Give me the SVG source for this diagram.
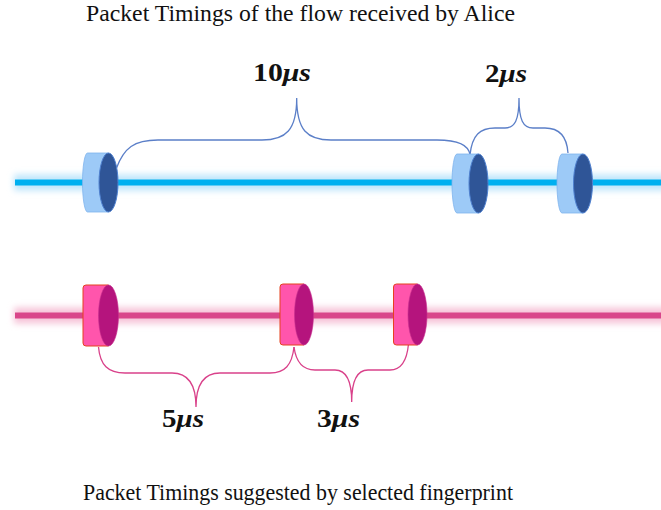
<svg xmlns="http://www.w3.org/2000/svg" width="661" height="510" viewBox="0 0 661 510">
<defs>
<filter id="glow" filterUnits="userSpaceOnUse" x="0" y="0" width="661" height="510"><feGaussianBlur stdDeviation="3"/></filter>
<style>
.title{font-family:"Liberation Serif","Times New Roman",serif;font-size:22.5px;fill:#111}
.lbl{font-family:"Liberation Serif","Times New Roman",serif;font-size:25px;font-weight:bold;fill:#111}
.it{font-style:italic}
.bside{fill:#9DCAF7;stroke:#7FB4EE;stroke-width:0.8}
.bface{fill:#2F5597;stroke:#4F81D0;stroke-width:1}
.pside{fill:#FF55AC;stroke:#E5421F;stroke-width:1}
.pface{fill:#B5147D;stroke:#C8308F;stroke-width:0.6}
.bbrace{fill:none;stroke:#5B7FC8;stroke-width:1.3}
.pbrace{fill:none;stroke:#D9418A;stroke-width:1.3}
</style>
</defs>
<rect width="661" height="510" fill="#fff"/>
<text class="title" x="86" y="21" textLength="429" lengthAdjust="spacingAndGlyphs">Packet Timings of the flow received by Alice</text>
<text class="title" x="83" y="500" textLength="430" lengthAdjust="spacingAndGlyphs">Packet Timings suggested by selected fingerprint</text>

<g id="blue-line">
<line x1="14" y1="182.5" x2="670" y2="182.5" stroke="#BFE6FB" stroke-width="16" filter="url(#glow)"/>
<line x1="15" y1="182.5" x2="661" y2="182.5" stroke="#00B0F0" stroke-width="6"/>
</g>
<g id="pink-line">
<line x1="14" y1="315.5" x2="670" y2="315.5" stroke="#F6C3D8" stroke-width="16" filter="url(#glow)"/>
<line x1="15" y1="315.5" x2="661" y2="315.5" stroke="#D9468A" stroke-width="6"/>
</g>

<g id="connectors">
<path class="bbrace" d="M116.5,168 C124,148 134,140 158,140 L262,140 C286,140 296.7,130 296.7,98 C296.7,130 307,140 331,140 L437,140 C460,140 469,146 470,155"/>
<path class="bbrace" d="M470,155 C472,135 480,128 495,128 L505,128 C515,128 519,120 519,98 C519,120 523,128 533,128 L545,128 C560,128 567,138 568,153"/>
<path class="pbrace" d="M98.5,347 C100,365 108,373 125,373 L172,373 C188,373 196,385 196,407 C196,385 204,373 220,373 L270,373 C285,373 292,365 294,347"/>
<path class="pbrace" d="M294,347 C296,362 302,370 315,370 L335,370 C346,370 351.7,380 351.7,402 C351.7,380 357,370 368,370 L390,370 C402,370 407,360 408.5,344"/>
</g>

<g id="blue-packet-1">
<path class="bside" d="M108.5,153 L87.5,153 A5,29.5 0 0 0 87.5,212 L108.5,212 Z"/>
<ellipse class="bface" cx="108.5" cy="182.5" rx="9.5" ry="29.5"/>
</g>
<g id="blue-packet-2">
<path class="bside" d="M478.5,154 L457,154 A5,29.5 0 0 0 457,213 L478.5,213 Z"/>
<ellipse class="bface" cx="478.5" cy="183.5" rx="9.5" ry="29.5"/>
</g>
<g id="blue-packet-3">
<path class="bside" d="M583,154 L562,154 A5,29.5 0 0 0 562,213 L583,213 Z"/>
<ellipse class="bface" cx="583" cy="183.5" rx="9.5" ry="29.5"/>
</g>

<g id="pink-packet-1">
<path class="pside" d="M108.5,285 L86,285 Q83,285 83,288 L83,343 Q83,346 86,346 L108.5,346 Z"/>
<ellipse class="pface" cx="108.5" cy="315.5" rx="10" ry="30.5"/>
</g>
<g id="pink-packet-2">
<path class="pside" d="M304,284 L283,284 Q280,284 280,287 L280,342 Q280,345 283,345 L304,345 Z"/>
<ellipse class="pface" cx="304" cy="314.5" rx="9.5" ry="30.5"/>
</g>
<g id="pink-packet-3">
<path class="pside" d="M417.5,284 L396.5,284 Q393.5,284 393.5,287 L393.5,342 Q393.5,345 396.5,345 L417.5,345 Z"/>
<ellipse class="pface" cx="417.5" cy="314.5" rx="9.5" ry="30.5"/>
</g>

<g id="labels">
<text class="lbl" x="253" y="81" textLength="58" lengthAdjust="spacingAndGlyphs">10<tspan class="it">μs</tspan></text>
<text class="lbl" x="485" y="82" textLength="42" lengthAdjust="spacingAndGlyphs">2<tspan class="it">μs</tspan></text>
<text class="lbl" x="162" y="427" textLength="42" lengthAdjust="spacingAndGlyphs">5<tspan class="it">μs</tspan></text>
<text class="lbl" x="317" y="427" textLength="43" lengthAdjust="spacingAndGlyphs">3<tspan class="it">μs</tspan></text>
</g>
</svg>
